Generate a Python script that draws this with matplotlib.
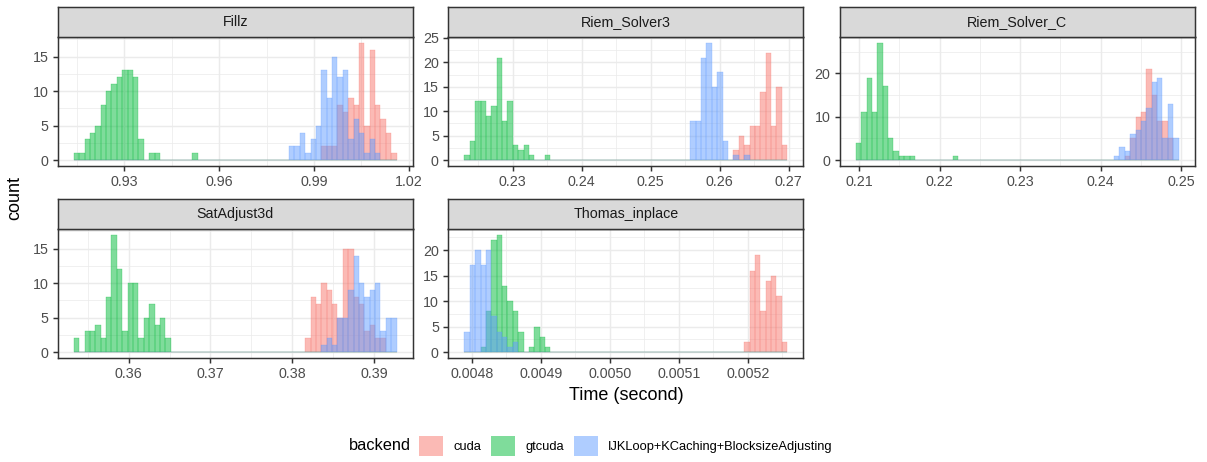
import numpy as np
import matplotlib
matplotlib.use("Agg")
import matplotlib.pyplot as plt
from matplotlib.patches import Patch
from matplotlib.ticker import MultipleLocator, FormatStrFormatter

plt.rcParams["font.family"] = ["Liberation Sans", "DejaVu Sans"]

# 60 bins per panel, counts given as (first non-empty bin, counts...)
NBINS = 60
backends = ["cuda", "gtcuda", "IJKLoop+KCaching+BlocksizeAdjusting"]
colors = ["#F8766D", "#00BA38", "#619CFF"]

panels = ["Fillz", "Riem_Solver3", "Riem_Solver_C", "SatAdjust3d", "Thomas_inplace"]

# data range (min, max) of each panel
fillz_range = (0.91485, 1.01525)
riem3_range = (0.22339, 0.26938)
riemc_range = (0.20993, 0.24934)
sat_range = (0.35361, 0.39244)
thomas_range = (0.004793, 0.005253)

fillz_cuda = (46, [2, 2, 2, 8, 7, 9, 8, 17, 5, 16, 8, 6, 4, 1])
fillz_gtcuda = (0, [1, 1, 3, 4, 5, 8, 10, 11, 12, 13, 13, 12, 3, 0, 1, 1, 0, 0, 0, 0, 0, 0, 1])
fillz_ijk = (40, [2, 2, 4, 1, 3, 5, 13, 9, 15, 12, 13, 3, 6, 4, 1, 3, 1])

riem3_cuda = (50, [2, 5, 3, 7, 7, 14, 22, 7, 15, 3])
riem3_gtcuda = (0, [1, 4, 12, 12, 9, 11, 21, 8, 12, 3, 2, 3, 1, 0, 0, 1])
riem3_ijk = (42, [8, 8, 21, 24, 15, 18, 4, 0, 1, 0, 1])

riemc_cuda = (50, [1, 5, 10, 11, 21, 15, 9, 9, 5])
riemc_gtcuda = (0, [4, 11, 19, 11, 27, 17, 5, 2, 1, 1, 1, 0, 0, 0, 0, 0, 0, 0, 1])
riemc_ijk = (48, [1, 3, 2, 6, 7, 9, 12, 18, 19, 5, 13, 5])

sat_cuda = (43, [2, 8, 7, 10, 9, 7, 5, 15, 15, 8, 7, 3, 4, 2, 2])
sat_gtcuda = (0, [2, 0, 3, 3, 4, 2, 8, 17, 12, 3, 10, 10, 2, 5, 7, 4, 5, 2])
sat_ijk = (46, [1, 2, 1, 5, 5, 9, 14, 10, 8, 9, 10, 3, 5, 5])

thomas_cuda = (52, [2, 16, 19, 8, 14, 15, 11, 2])
thomas_gtcuda = (3, [1, 8, 22, 23, 13, 10, 8, 4, 0, 1, 5, 3, 1])
thomas_ijk = (0, [4, 17, 20, 17, 20, 7, 4, 3, 1, 2])

ranges = [fillz_range, riem3_range, riemc_range, sat_range, thomas_range]
counts = [
    [fillz_cuda, fillz_gtcuda, fillz_ijk],
    [riem3_cuda, riem3_gtcuda, riem3_ijk],
    [riemc_cuda, riemc_gtcuda, riemc_ijk],
    [sat_cuda, sat_gtcuda, sat_ijk],
    [thomas_cuda, thomas_gtcuda, thomas_ijk],
]
x_steps = [0.03, 0.01, 0.01, 0.01, 0.0001]
x_fmts = ["%.2f", "%.2f", "%.2f", "%.2f", "%.4f"]
y_steps = [5, 5, 10, 5, 5]


def expand(sparse):
    start, vals = sparse
    full = np.zeros(NBINS)
    full[start:start + len(vals)] = vals
    return full


W, H = 1207, 462
fig = plt.figure(figsize=(W / 100, H / 100), dpi=100)

lefts = [57.7, 448.3, 839.7]
panel_w = 355.0
tops = [37, 229]
panel_h = 129
strip_h = 30

grid_col = "#EBEBEB"
dark = "#333333"
tick_size = 10.3

for i, name in enumerate(panels):
    row, col = divmod(i, 3)
    x0 = lefts[col] / W
    y0 = 1 - (tops[row] + panel_h) / H
    ax = fig.add_axes([x0, y0, panel_w / W, panel_h / H])
    sax = fig.add_axes([x0, 1 - tops[row] / H, panel_w / W, strip_h / H])

    lo, hi = ranges[i]
    w = (hi - lo) / (NBINS - 1)
    edges = np.linspace(lo - w / 2, hi + w / 2, NBINS + 1)
    ymax = 0
    for sp, c in zip(counts[i], colors):
        full = expand(sp)
        ymax = max(ymax, full.max())
        ax.bar(edges[:-1], full, width=w, align="edge", color=c, alpha=0.5,
               edgecolor=c, linewidth=0.35, zorder=2)

    ax.set_ylim(-0.05 * ymax, 1.05 * ymax)
    ax.xaxis.set_major_locator(MultipleLocator(x_steps[i]))
    ax.xaxis.set_minor_locator(MultipleLocator(x_steps[i] / 2))
    ax.xaxis.set_major_formatter(FormatStrFormatter(x_fmts[i]))
    ax.yaxis.set_major_locator(MultipleLocator(y_steps[i]))
    ax.yaxis.set_minor_locator(MultipleLocator(y_steps[i] / 2))
    ax.set_axisbelow(True)
    ax.grid(which="major", color=grid_col, linewidth=1.07)
    ax.grid(which="minor", color=grid_col, linewidth=0.53)
    ax.tick_params(which="major", length=3.8, width=1.07, color=dark,
                   labelsize=tick_size, labelcolor="#4D4D4D", pad=3)
    ax.tick_params(which="minor", length=0)
    for s in ax.spines.values():
        s.set_color(dark)
        s.set_linewidth(1.07)

    sax.set_facecolor("#D9D9D9")
    sax.set_xticks([])
    sax.set_yticks([])
    for s in sax.spines.values():
        s.set_color(dark)
        s.set_linewidth(1.07)
    sax.text(0.5, 0.5, name, ha="center", va="center", fontsize=tick_size,
             color="#1A1A1A", transform=sax.transAxes)

fig.text(15 / W, 1 - 197.5 / H, "count", rotation=90, ha="center",
         va="center", fontsize=13)
fig.text(626 / W, 1 - 395 / H, "Time (second)", ha="center", va="center",
         fontsize=13)

fig.text(349 / W, 1 - 446 / H, "backend", ha="left", va="center",
         fontsize=11.8)
handles = [Patch(facecolor=c, alpha=0.5, edgecolor="none") for c in colors]
fig.legend(handles, backends, ncol=3, loc="center left",
           bbox_to_anchor=(419 / W, 1 - 446 / H), frameon=False,
           fontsize=9.3, handlelength=1.86, handleheight=2.0,
           handletextpad=0.78, columnspacing=0.78, borderpad=0,
           borderaxespad=0)

fig.savefig("out.png", dpi=100)
